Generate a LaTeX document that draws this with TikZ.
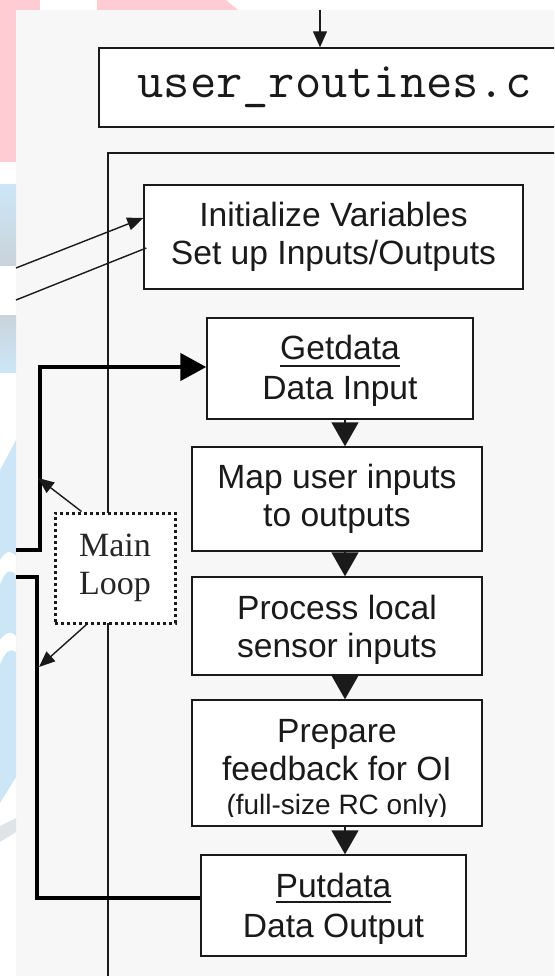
\documentclass[tikz,border=0pt]{standalone}
\usepackage{fontspec}
\setmainfont{Liberation Sans}
\newfontfamily\mlserif{Liberation Serif}
\usetikzlibrary{arrows.meta,calc}
\definecolor{bggray}{HTML}{F7F7F7}
\definecolor{wmpink}{HTML}{FFCCD4}
\definecolor{wmblue}{HTML}{CCE6F8}
\definecolor{wmgray}{HTML}{C9D3DA}
\definecolor{ink}{HTML}{1A1A1A}
\newcommand\ulword[2][6pt]{\setbox0\hbox{#2}\rlap{\rule[-#1]{\wd0}{1.4pt}}\box0}
\begin{document}
\begin{tikzpicture}[x=1pt,y=-1pt,
  box/.style={draw=ink, line width=1.4pt, fill=white, inner sep=0pt, align=center,
    font=\fontsize{33.6}{37.5}\selectfont, text=ink},
  mlbox/.style={draw=ink, line width=3pt, dash pattern=on 3pt off 3pt, fill=white,
    inner sep=0pt, align=center, font=\mlserif\fontsize{34}{38}\selectfont, text=black!85,
    minimum width=120pt, minimum height=110pt},
  frameline/.style={draw=ink, line width=1.4pt},
  smallarrow/.style={draw=ink, line width=1.2pt, -{Triangle[width=14pt,length=16pt]}},
  thinarrow/.style={draw=ink, line width=1.4pt, -{Triangle[width=13pt,length=16pt]}},
  thinline/.style={draw=ink, line width=1.4pt},
  flowarrow/.style={draw=ink, line width=1.4pt, -{Triangle[width=27pt,length=24pt]}},
  loopline/.style={draw=black, line width=4.6pt}
]
\useasboundingbox (0,0) rectangle (554,976);
\clip (0,0) rectangle (554,976);
% background and watermark remnants
\fill[white] (0,0) rectangle (554,976);
\fill[bggray] (16,10) rectangle (554,976);
\fill[wmpink] (0,0) rectangle (16,162);
\fill[wmpink] (0,0) rectangle (40,10);
\fill[wmpink] (97,0) -- (226,0) -- (238,10) -- (97,10) -- cycle;
\shade[top color=wmblue, bottom color=wmgray] (0,185) rectangle (16,265);
\shade[top color=wmgray, bottom color=wmblue] (0,315) rectangle (16,372);
\fill[wmblue] (0,470) -- (16,440) -- (16,777) -- (0,803) -- cycle;
\fill[white] (0,560) .. controls (8,548) and (12,552) .. (16,556) -- (16,575) .. controls (10,568) and (6,570) .. (0,584) -- cycle;
\fill[white] (0,640) .. controls (8,630) and (12,632) .. (16,636) -- (16,652) .. controls (10,648) and (6,650) .. (0,664) -- cycle;
\fill[wmgray!60] (0,826) -- (16,818) -- (16,832) -- (0,842) -- cycle;

% outer frame
\draw[frameline] (108,1000) -- (108,153) -- (600,153);

% boxes
\node[box, font=\ttfamily\fontsize{51}{56}\selectfont, minimum width=471pt, minimum height=79pt,
  text height=24pt, text depth=3pt] (user) at (334.5,87.5) {user\_routines.c};
\node[box, minimum width=379pt, minimum height=104pt] (init) at (333.5,237)
  {Initialize Variables\\Set up Inputs/Outputs};
\node[box, minimum width=266pt, minimum height=101pt] (getdata) at (340,368.5)
  {\rule{0pt}{28pt}\ulword[7.5pt]{Getdata}\\[2.5pt]Data Input};
\node[box, minimum width=290pt, minimum height=104pt] (map) at (337,499)
  {Map user inputs\\to outputs};
\node[box, minimum width=290pt, minimum height=98pt] (process) at (337,626)
  {\rule{0pt}{32pt}Process local\\sensor inputs};
\node[box, minimum width=290pt, minimum height=126pt] (prepare) at (337,763) {};
\node[inner sep=0pt, align=center, font=\fontsize{33.6}{37.5}\selectfont, text=ink]
  (preparetext) at (337,770)
  {Prepare\\feedback for OI\\[-3.5pt]{\fontsize{28}{33}\selectfont(full-size RC only)}};
\fill[white] ([xshift=2pt,yshift=2pt]prepare.south west) rectangle ([xshift=-2pt,yshift=9.5pt]prepare.south east);
\node[box, minimum width=265pt, minimum height=101pt] (putdata) at (333.5,905.5)
  {\rule{0pt}{30pt}\ulword[5.5pt]{Putdata}\\[2.5pt]Data Output};

% top arrow
\coordinate (topin) at (320,10);
\draw[smallarrow] (topin) -- (topin |- user.north);

% arrows into initialize
\coordinate (inA) at (16,268);
\coordinate (inB) at (16,300);
\draw[thinarrow] (inA) -- ([yshift=19pt]init.west);
\draw[thinline] (inB) -- ([yshift=-11pt,xshift=3pt]init.west);

% flow arrows
\coordinate (ax) at (345,0);
\draw[flowarrow] (getdata.south -| ax) -- (map.north -| ax);
\draw[flowarrow] (map.south -| ax) -- (process.north -| ax);
\draw[flowarrow] (process.south -| ax) -- (prepare.north -| ax);
\draw[flowarrow] (prepare.south -| ax) -- (putdata.north -| ax);

% main loop lines
\coordinate (loopin) at (16,550);
\coordinate (loopup) at (40,367);
\draw[loopline, -{Triangle[width=27pt,length=26pt]}] (loopin) -| (loopup) -- (loopup -| getdata.west);
\coordinate (loopout) at (16,577);
\coordinate (loopdn) at (37,898);
\draw[loopline] (loopout) -| (loopdn) -- (loopdn -| putdata.west);

% main loop label
\node[mlbox] (mainloop) at (115,568) {Main\\Loop};
\coordinate (hitA) at (38,478);
\coordinate (hitB) at (39,667);
\draw[thinarrow] ([xshift=28pt]mainloop.north west) -- (hitA);
\draw[thinarrow] ([xshift=33pt]mainloop.south west) -- (hitB);
\end{tikzpicture}
\end{document}
